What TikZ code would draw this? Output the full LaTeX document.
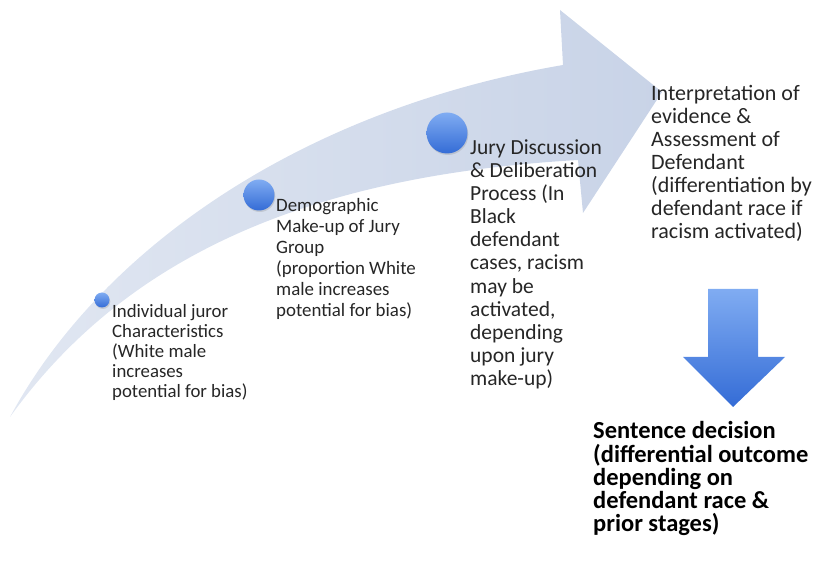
\documentclass[tikz,border=0pt]{standalone}
\usepackage{fontspec}
\setmainfont{Carlito}
\usetikzlibrary{shadows}
\definecolor{bandgray}{RGB}{200,211,231}
\definecolor{balltop}{RGB}{128,172,242}
\definecolor{ballbot}{RGB}{52,108,214}
\definecolor{txtgray}{RGB}{38,38,38}
\tikzset{
  stage/.style={anchor=base west, align=left, inner sep=0pt, text=txtgray},
  dot/.style={circle, inner sep=0pt, draw=none, top color=balltop, bottom color=ballbot,
    drop shadow={shadow xshift=0.8pt, shadow yshift=-1.5pt, opacity=.25}},
}
\begin{document}
\begin{tikzpicture}[x=1pt, y=-1pt, line join=round, line cap=round]
		\useasboundingbox (0,0) rectangle (815,561);
		% curved band arrow
		\shade[left color=bandgray!55!white, right color=bandgray]
		  (10,417) .. controls (100,250) and (300,110) .. (563,65)
		  -- (560,10) -- (662,92) -- (583,213) -- (578,160)
		  .. controls (320,175) and (130,250) .. (10,417) -- cycle;
		% stage markers
		\node[dot, minimum size=15pt] (d1) at (102,300) {};
		\node[dot, minimum size=31pt] (d2) at (259,195) {};
		\node[dot, minimum size=41pt] (d3) at (447,133) {};
		% stage texts (anchored at the baseline of the last line)
		\node[stage, font=\fontsize{18.8}{20.2}\selectfont] (juror) at (112,398)
		  {Individual juror\\Characteristics\\(White male\\increases\\potential for bias)};
		\node[stage, font=\fontsize{18.9}{21}\selectfont] (group) at (276,317)
		  {Demographic\\Make-up of Jury\\Group\\(proportion White\\male increases\\potential for bias)};
		\node[stage, font=\fontsize{21.5}{23.2}\selectfont] (jury) at (470,386)
		  {Jury Discussion\\\& Deliberation\\Process (In\\Black\\defendant\\cases, racism\\may be\\activated,\\depending\\upon jury\\make-up)};
		\node[stage, font=\fontsize{22}{23}\selectfont] (evid) at (651,239)
		  {Interpretation of\\evidence \&\\Assessment of\\Defendant\\(differentiation by\\defendant race if\\racism activated)};
		% down arrow to the decision
		\shade[top color=balltop, bottom color=ballbot]
		  (708,289) -- (758,289) -- (758,357) -- (785,357) -- (733,407)
		  -- (683,357) -- (708,357) -- cycle;
		\node[stage, text=black, font=\bfseries\fontsize{24.5}{23.3}\selectfont] (sentence) at (593,532)
		  {Sentence decision\\(differential outcome\\depending on\\defendant race \&\\prior stages)};
\end{tikzpicture}
\end{document}
